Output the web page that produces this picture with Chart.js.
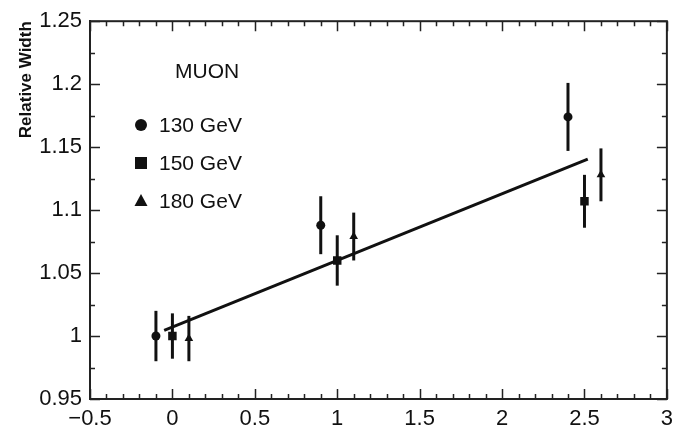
<!DOCTYPE html>
<html>
<head>
<meta charset="utf-8">
<script src="https://cdn.jsdelivr.net/npm/chart.js@4/dist/chart.umd.min.js"></script>
<style>
  body { margin: 0; background: #fff; }
  canvas { display: block; }
</style>
</head>
<body>
<canvas id="widthChart" width="680" height="428"></canvas>
<script>
// Relative width vs x, muon channel, three beam energies
const energies = ["130 GeV", "150 GeV", "180 GeV"];

const x130 = [-0.1, 0.9, 2.4];
const y130 = [1.000, 1.088, 1.174];
const err130 = [0.020, 0.023, 0.027];

const x150 = [0.0, 1.0, 2.5];
const y150 = [1.000, 1.060, 1.107];
const err150 = [0.018, 0.020, 0.021];

const x180 = [0.1, 1.1, 2.6];
const y180 = [0.998, 1.079, 1.128];
const err180 = [0.018, 0.019, 0.021];

// straight-line fit
const fitX = [-0.05, 2.52];
const fitY = [1.0045, 1.1405];

const xTicks = [-0.5, 0, 0.5, 1, 1.5, 2, 2.5, 3];
const yTicks = [0.95, 1, 1.05, 1.1, 1.15, 1.2, 1.25];

const INK = "#111";
const FONT = "'Liberation Sans', Arial, sans-serif";

function toPoints(xs, ys) {
    return xs.map((x, i) => ({ x: x, y: ys[i] }));
}

/*
 * vertical error bars from dataset.errors
 */
const errorBars = {
    id: "errorBars",
    beforeDatasetsDraw(chart) {
        const ctx = chart.ctx;
        const ys = chart.scales.y;
        ctx.save();
        ctx.strokeStyle = INK;
        ctx.lineWidth = 3;
        chart.data.datasets.forEach((ds, i) => {
            if (!ds.errors) return;
            chart.getDatasetMeta(i).data.forEach((pt, j) => {
                const v = ds.data[j].y;
                ctx.beginPath();
                ctx.moveTo(pt.x, ys.getPixelForValue(v + ds.errors[j]));
                ctx.lineTo(pt.x, ys.getPixelForValue(v - ds.errors[j]));
                ctx.stroke();
            });
        });
        ctx.restore();
    }
};

/*
 * frame with inward ticks on all four sides
 */
const frameTicks = {
    id: "frameTicks",
    afterDraw(chart) {
        const ctx = chart.ctx;
        const a = chart.chartArea;
        const xs = chart.scales.x;
        const ys = chart.scales.y;
        ctx.save();
        ctx.strokeStyle = "#222";
        ctx.lineWidth = 2;
        ctx.strokeRect(a.left, a.top, a.right - a.left, a.bottom - a.top);
        ctx.lineWidth = 1.5;
        ctx.beginPath();
        for (let k = 0; k <= 35; k++) {
            const v = -0.5 + k * 0.1;
            const len = k % 5 === 0 ? 10 : 5;
            const px = Math.round(xs.getPixelForValue(v)) + 0.5;
            ctx.moveTo(px, a.bottom); ctx.lineTo(px, a.bottom - len);
            ctx.moveTo(px, a.top); ctx.lineTo(px, a.top + len);
        }
        for (let k = 0; k <= 12; k++) {
            const v = 0.95 + k * 0.025;
            const len = k % 2 === 0 ? 10 : 5;
            const py = Math.round(ys.getPixelForValue(v)) + 0.5;
            ctx.moveTo(a.left, py); ctx.lineTo(a.left + len, py);
            ctx.moveTo(a.right, py); ctx.lineTo(a.right - len, py);
        }
        ctx.stroke();
        ctx.restore();
    }
};

/*
 * in-plot key: MUON and the three energies
 */
const key = {
    id: "key",
    afterDraw(chart) {
        const ctx = chart.ctx;
        ctx.save();
        ctx.fillStyle = INK;
        ctx.font = "21px " + FONT;
        ctx.textAlign = "left";
        ctx.textBaseline = "middle";
        ctx.fillText("MUON", 175, 72);
        const rows = [125, 163, 201];
        const mx = 141;
        // circle
        ctx.beginPath();
        ctx.arc(mx, rows[0], 6, 0, Math.PI * 2);
        ctx.fill();
        // square
        ctx.fillRect(mx - 6, rows[1] - 6, 12, 12);
        // triangle
        ctx.beginPath();
        ctx.moveTo(mx, rows[2] - 7);
        ctx.lineTo(mx + 6.5, rows[2] + 5);
        ctx.lineTo(mx - 6.5, rows[2] + 5);
        ctx.closePath();
        ctx.fill();
        energies.forEach((e, i) => ctx.fillText(e, 159, rows[i] + 1));
        ctx.restore();
    }
};

const ctx = document.getElementById("widthChart");

new Chart(ctx, {
    type: "scatter",
    data: {
        datasets: [
            {
                label: energies[0],
                data: toPoints(x130, y130),
                errors: err130,
                pointStyle: "circle",
                pointRadius: 4.5,
                backgroundColor: INK,
                borderColor: INK,
                borderWidth: 0
            },
            {
                label: energies[1],
                data: toPoints(x150, y150),
                errors: err150,
                pointStyle: "rect",
                pointRadius: 6,
                backgroundColor: INK,
                borderColor: INK,
                borderWidth: 0
            },
            {
                label: energies[2],
                data: toPoints(x180, y180),
                errors: err180,
                pointStyle: "triangle",
                pointRadius: 5,
                backgroundColor: INK,
                borderColor: INK,
                borderWidth: 0
            },
            {
                label: "fit",
                data: toPoints(fitX, fitY),
                showLine: true,
                pointRadius: 0,
                borderColor: INK,
                borderWidth: 3
            }
        ]
    },
    options: {
        responsive: false,
        animation: false,
        layout: {
            padding: { top: 15, right: 9, left: 0, bottom: 0 }
        },
        plugins: {
            legend: { display: false },
            tooltip: { enabled: false }
        },
        scales: {
            x: {
                type: "linear",
                min: -0.5,
                max: 3,
                afterBuildTicks: s => { s.ticks = xTicks.map(v => ({ value: v })); },
                afterFit: s => { s.height = 29; },
                grid: { display: false, drawTicks: false },
                border: { display: true, color: "#222", width: 2 },
                ticks: {
                    color: INK,
                    padding: 7,
                    maxRotation: 0,
                    font: { family: FONT, size: 22 },
                    callback: v => String(v).replace("-", "\u2212")
                }
            },
            y: {
                type: "linear",
                min: 0.95,
                max: 1.25,
                afterBuildTicks: s => { s.ticks = yTicks.map(v => ({ value: v })); },
                afterFit: s => { s.width = 90; },
                grid: { display: false, drawTicks: false },
                border: { display: true, color: "#222", width: 2 },
                title: {
                    display: true,
                    text: "Relative Width",
                    align: "end",
                    color: INK,
                    padding: { top: 16, bottom: 0 },
                    font: { family: FONT, size: 17, weight: "bold" }
                },
                ticks: {
                    color: INK,
                    padding: 8,
                    font: { family: FONT, size: 22 },
                    callback: v => String(+Number(v).toFixed(3))
                }
            }
        }
    },
    plugins: [errorBars, frameTicks, key]
});
</script>
</body>
</html>
